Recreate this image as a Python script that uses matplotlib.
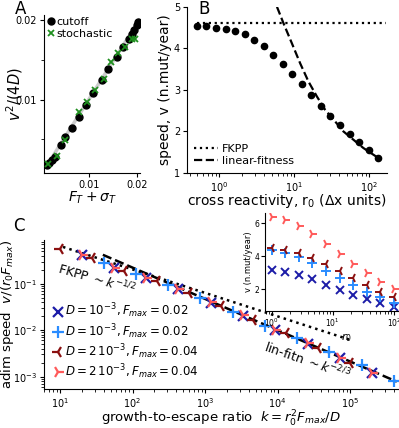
import numpy as np
import matplotlib
matplotlib.use('Agg')
import matplotlib.pyplot as plt

# ---- panel A data
cut_x = [0.00114, 0.0016, 0.00207, 0.00277, 0.00397, 0.00487, 0.00628, 0.00789, 0.0093,
         0.0107, 0.0126, 0.0140, 0.0158, 0.0172, 0.0183, 0.0189, 0.0194, 0.0200, 0.0203]
cut_y = [0.00171, 0.0020, 0.00235, 0.00276, 0.00424, 0.00528, 0.00647, 0.0078, 0.00928,
         0.0108, 0.0124, 0.0139, 0.0154, 0.0166, 0.0176, 0.0183, 0.0188, 0.0194, 0.0198]
sto_x = [0.00135, 0.00312, 0.00487, 0.00789, 0.00945, 0.0112, 0.0130, 0.0145, 0.0161,
         0.0175, 0.0189, 0.0196]
sto_y = [0.00193, 0.00289, 0.00487, 0.00844, 0.0097, 0.0112, 0.0126, 0.0147, 0.0158,
         0.0166, 0.0176, 0.0176]
ref_x = [0.0011, 0.0205]
ref_y = [0.0017, 0.0200]

# ---- panel B data
r0_b = [0.5, 0.67, 0.9, 1.21, 1.62, 2.17, 2.91, 3.91, 5.24, 7.03, 9.43, 12.6, 17.0,
        22.8, 30.5, 41.0, 54.9, 73.6, 98.8, 132.0]
v_b = [4.54, 4.53, 4.50, 4.46, 4.42, 4.34, 4.20, 4.05, 3.85, 3.62, 3.38, 3.13, 2.88,
       2.62, 2.38, 2.15, 1.94, 1.74, 1.54, 1.37]
fkpp_r0 = [0.5, 170]
fkpp_v = [4.61, 4.61]
lin_r0 = [5.88, 7.2, 9.31, 12.0, 15.5, 20.1, 25.9, 35.2, 45.4, 61.8, 84.0, 133.0]
lin_v = [5.0, 4.60, 4.12, 3.64, 3.20, 2.84, 2.52, 2.24, 2.0, 1.80, 1.60, 1.36]

# ---- panel C data (main)
k_bx = [20, 56, 155, 430, 1200, 3340, 9300, 25900, 72000, 200000]
y_bx = [0.424, 0.217, 0.135, 0.0762, 0.0391, 0.0200, 0.0103, 0.00503, 0.00246, 0.00120]
k_bp = [40, 111, 310, 862, 2400, 6680, 18600, 51700, 144000, 400000]
y_bp = [0.276, 0.164, 0.0923, 0.0497, 0.0243, 0.01245, 0.0067, 0.00344, 0.00176, 0.00082]
k_dr = [10, 27.8, 77.4, 215, 600, 1670, 4640, 12900, 35900, 100000]
y_dr = [0.565, 0.351, 0.189, 0.117, 0.0630, 0.0324, 0.0166, 0.0085, 0.00416, 0.00194]
k_lr = [20, 56, 155, 430, 1200, 3340, 9300, 25900, 72000, 200000]
y_lr = [0.42, 0.22, 0.135, 0.077, 0.040, 0.021, 0.0103, 0.0052, 0.0025, 0.0012]
fk_k = [11, 1e5]
fk_y = [0.62, 0.0062]
lf_k = [39, 4.4e5]
lf_y = [0.42, 0.00078]

# ---- panel C inset
r0_in = [1.0, 1.67, 2.78, 4.64, 7.74, 12.9, 21.5, 35.9, 59.9, 100.0]
v_bx = [3.15, 3.05, 2.85, 2.60, 2.26, 1.95, 1.63, 1.37, 1.14, 0.92]
v_bp = [4.37, 4.21, 3.92, 3.55, 3.09, 2.65, 2.22, 1.85, 1.50, 1.17]
v_dr = [4.47, 4.39, 4.21, 3.90, 3.54, 3.11, 2.68, 2.24, 1.84, 1.49]
v_lr = [6.34, 6.16, 5.84, 5.36, 4.76, 4.15, 3.51, 2.95, 2.42, 1.98]

c_bx = '#1c1ca8'
c_bp = '#2a8cff'
c_dr = '#8b1010'
c_lr = '#ff5a5a'

fig = plt.figure(figsize=(3.99, 4.28), dpi=100)


def despine(ax):
    ax.spines['top'].set_visible(False)
    ax.spines['right'].set_visible(False)
    ax.tick_params(labelsize=7, direction='out', length=3, pad=2)
    ax.tick_params(which='minor', length=2)


# ---------- A
axA = fig.add_axes([0.110, 0.596, 0.241, 0.368])
axA.plot(ref_x, ref_y, color='#cccccc', lw=2.5, zorder=1)
axA.plot(cut_x, cut_y, 'o', color='k', ms=5, label='cutoff', zorder=2)
axA.plot(sto_x, sto_y, 'x', color='#1f8f1f', ms=5, mew=1.3, label='stochastic', zorder=3)
axA.set_xlim(0.00044, 0.0207)
axA.set_ylim(0.00075, 0.0206)
axA.set_xticks([0.01, 0.02])
axA.set_xticklabels(['0.01', '0.02'])
axA.set_yticks([0.01, 0.02])
axA.set_yticklabels(['0.01', '0.02'])
axA.set_yticks([0.005, 0.015], minor=True)
despine(axA)
axA.set_xlabel(r'$F_T+\sigma_T$', fontsize=10, labelpad=0)
axA.set_ylabel(r'$v^2/(4D)$', fontsize=10.5)
axA.yaxis.set_label_coords(-0.195, 0.5)
axA.legend(loc='upper left', frameon=False, fontsize=8, handletextpad=0.0,
           handlelength=1.0, borderaxespad=0.0, labelspacing=0.2, borderpad=0.1)
fig.text(0.037, 1.0, 'A', fontsize=12, va='top')

# ---------- B
axB = fig.add_axes([0.469, 0.596, 0.501, 0.388])
axB.plot(r0_b, v_b, 'o', color='k', ms=4.5)
axB.plot(fkpp_r0, fkpp_v, ':', color='k', lw=1.6, label='FKPP')
axB.plot(lin_r0, lin_v, '--', color='k', lw=1.6, label='linear-fitness')
axB.set_xscale('log')
axB.set_xlim(0.37, 174)
axB.set_ylim(1, 5)
axB.set_yticks([1, 2, 3, 4, 5])
despine(axB)
axB.set_xlabel(r'cross reactivity, r$_0$ ($\Delta$x units)', fontsize=10, labelpad=-1)
axB.set_ylabel('speed, v (n.mut/year)', fontsize=10)
axB.yaxis.set_label_coords(-0.075, 0.5)
axB.legend(loc='lower left', frameon=False, fontsize=8, handlelength=2.2,
           handletextpad=0.3, borderaxespad=0.2, labelspacing=0.2)
fig.text(0.497, 1.0, 'B', fontsize=12, va='top')

# ---------- C
axC = fig.add_axes([0.110, 0.091, 0.888, 0.348])
axC.plot(fk_k, fk_y, ':', color='k', lw=1.8, zorder=1)
axC.plot(lf_k, lf_y, '--', color='k', lw=1.8, zorder=1)
axC.plot(k_bx, y_bx, 'x', color=c_bx, ms=7, mew=1.6, label=r'$D=10^{-3}, F_{max}=0.02$')
axC.plot(k_bp, y_bp, '+', color=c_bp, ms=8, mew=1.6, label=r'$D=10^{-3}, F_{max}=0.02$')
axC.plot(k_dr, y_dr, '3', color=c_dr, ms=9, mew=1.6, label=r'$D=2\,10^{-3}, F_{max}=0.04$')
axC.plot(k_lr, y_lr, '4', color=c_lr, ms=9, mew=1.6, label=r'$D=2\,10^{-3}, F_{max}=0.04$')
axC.set_xscale('log')
axC.set_yscale('log')
axC.set_xlim(6.0, 4.6e5)
axC.set_ylim(5.4e-4, 0.87)
despine(axC)
axC.set_xlabel(r'growth-to-escape ratio  $k=r_0^2F_{max}/D$', fontsize=9.5, labelpad=-0.5)
axC.set_ylabel(r'adim speed  $v/(r_0F_{max})$', fontsize=9.5)
axC.yaxis.set_label_coords(-0.079, 0.5)
axC.legend(loc='lower left', frameon=False, fontsize=8.5, handletextpad=0.1,
           handlelength=1.0, borderaxespad=0.3, labelspacing=0.12)
axC.text(9.1, 0.171, r'FKPP $\sim k^{-1/2}$', fontsize=9, rotation=-16,
         rotation_mode='anchor', ha='left', va='baseline')
axC.text(6300, 0.00344, r'lin-fitn $\sim k^{-2/3}$', fontsize=9, rotation=-19,
         rotation_mode='anchor', ha='left', va='baseline')
fig.text(0.033, 0.492, 'C', fontsize=12, va='top')

# ---------- inset
axI = fig.add_axes([0.664, 0.273, 0.34, 0.229])
axI.plot(r0_in, v_bx, 'x', color=c_bx, ms=6, mew=1.4)
axI.plot(r0_in, v_bp, '+', color=c_bp, ms=7, mew=1.4)
axI.plot(r0_in, v_dr, '3', color=c_dr, ms=7, mew=1.4)
axI.plot(r0_in, v_lr, '4', color=c_lr, ms=7, mew=1.4)
axI.set_xscale('log')
axI.set_xlim(0.78, 128)
axI.set_ylim(0.66, 6.6)
axI.set_yticks([2, 4, 6])
despine(axI)
axI.tick_params(labelsize=5.5, pad=1)
axI.set_ylabel('v (n.mut/year)', fontsize=6, labelpad=1)
axI.set_xlabel(r'$r_0$', fontsize=8, labelpad=0)
axI.xaxis.set_label_coords(0.6, -0.2)

fig.savefig('out.png', dpi=100)
